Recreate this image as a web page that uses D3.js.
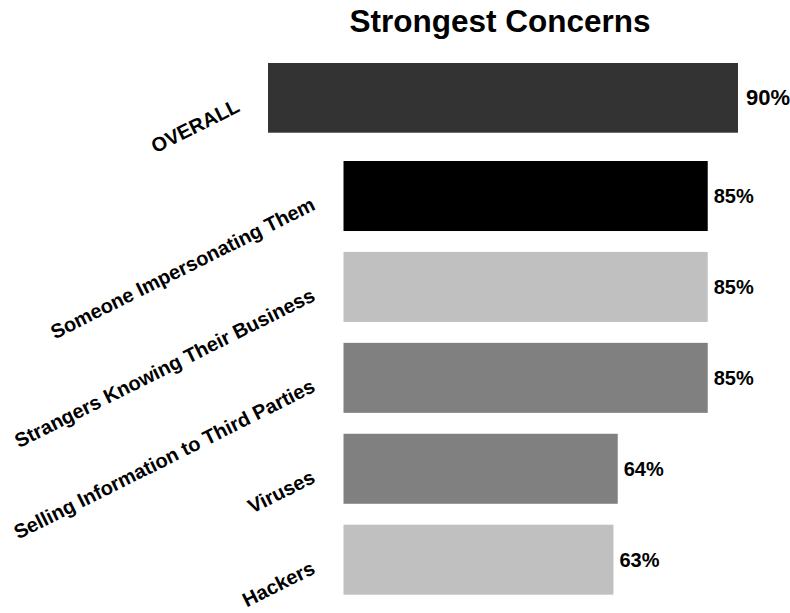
<!DOCTYPE html>
<html>
<head>
<meta charset="utf-8">
<script src="https://cdn.jsdelivr.net/npm/d3@7/dist/d3.min.js"></script>
<style>
  html, body { margin: 0; padding: 0; background: #fff; }
  svg { display: block; font-family: "Liberation Sans", Arial, sans-serif; }
</style>
</head>
<body>
<svg id="chart" width="790" height="613"></svg>
<script>
// Headline figure
const overallLabel = "OVERALL";
const overallValue = 90;

// Individual concerns
const categories = [
  "Someone Impersonating Them",
  "Strangers Knowing Their Business",
  "Selling Information to Third Parties",
  "Viruses",
  "Hackers"
];
const values = [85, 85, 85, 64, 63];
const colors = ["#000000", "#c0c0c0", "#808080", "#808080", "#c0c0c0"];
const overallColor = "#333333";

const svg = d3.select("#chart");

// Title
svg.append("text")
  .attr("x", 500)
  .attr("y", 32)
  .attr("text-anchor", "middle")
  .attr("font-size", 31.5)
  .attr("font-weight", "bold")
  .attr("fill", "#000")
  .text("Strongest Concerns");

// Scales
const xMain = d3.scaleLinear().domain([0, 100]).range([343.5, 772]);
const xOverall = d3.scaleLinear().domain([0, 100]).range([268, 790.2]);
const yMain = d3.scaleBand().domain(categories).range([161, 594.7])
  .paddingInner(0.23).paddingOuter(0);
const yOverall = d3.scaleBand().domain([overallLabel]).range([63, 132.7]).padding(0);

// Slanted category labels: text end sits just left of the bar start
const labelAngle = -26.5;
const labelGapX = 27;
const labelDropY = 13;

function slantedLabel(sel, x0, yc) {
  sel.attr("text-anchor", "end")
    .attr("font-size", 20)
    .attr("font-weight", "bold")
    .attr("fill", "#000")
    .attr("transform", d => `translate(${x0 - labelGapX},${yc(d) + labelDropY}) rotate(${labelAngle})`);
}

// Overall bar
svg.append("rect")
  .attr("x", xOverall(0))
  .attr("y", yOverall(overallLabel))
  .attr("width", xOverall(overallValue) - xOverall(0))
  .attr("height", yOverall.bandwidth())
  .attr("fill", overallColor);

svg.append("text")
  .attr("x", xOverall(overallValue) + 8)
  .attr("y", yOverall(overallLabel) + yOverall.bandwidth() / 2)
  .attr("dominant-baseline", "central")
  .attr("font-size", 22)
  .attr("font-weight", "bold")
  .text(overallValue + "%");

svg.selectAll("text.overall-cat")
  .data([overallLabel])
  .join("text")
  .attr("class", "overall-cat")
  .call(slantedLabel, xOverall(0), d => yOverall(d) + yOverall.bandwidth() / 2)
  .text(d => d);

// Concern bars
const rows = categories.map((c, i) => ({ c, v: values[i], color: colors[i] }));

svg.selectAll("rect.bar")
  .data(rows)
  .join("rect")
  .attr("class", "bar")
  .attr("x", xMain(0))
  .attr("y", d => yMain(d.c))
  .attr("width", d => xMain(d.v) - xMain(0))
  .attr("height", yMain.bandwidth())
  .attr("fill", d => d.color);

svg.selectAll("text.value")
  .data(rows)
  .join("text")
  .attr("class", "value")
  .attr("x", d => xMain(d.v) + 6)
  .attr("y", d => yMain(d.c) + yMain.bandwidth() / 2)
  .attr("dominant-baseline", "central")
  .attr("font-size", 20)
  .attr("font-weight", "bold")
  .text(d => d.v + "%");

svg.selectAll("text.cat")
  .data(rows)
  .join("text")
  .attr("class", "cat")
  .call(slantedLabel, xMain(0), d => yMain(d.c) + yMain.bandwidth() / 2)
  .text(d => d.c);
</script>
</body>
</html>
